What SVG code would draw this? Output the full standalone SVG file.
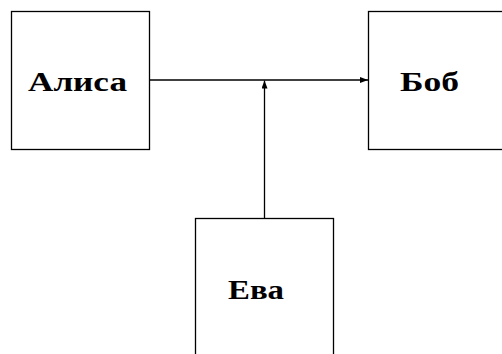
<svg xmlns="http://www.w3.org/2000/svg" width="502" height="354" viewBox="0 0 502 354">
<style>
.box{fill:#fff;stroke:#000;stroke-width:1.3}
.lbl{font-family:"Liberation Serif","DejaVu Serif",serif;font-weight:bold;font-size:28px;fill:#000}
.edge{stroke:#000;stroke-width:1.3;fill:none}
</style>
<defs>
<marker id="ah" viewBox="0 0 8 6" refX="8" refY="3" markerWidth="8" markerHeight="6" markerUnits="userSpaceOnUse" orient="auto">
<path d="M0,0 L8,3 L0,6 Z" fill="#000"/>
</marker>
</defs>
<rect width="502" height="354" fill="#fff"/>
<g id="alice">
<rect class="box" x="11.5" y="11.5" width="138" height="138"/>
<text class="lbl" x="28" y="90.7" textLength="99" lengthAdjust="spacingAndGlyphs">Алиса</text>
</g>
<g id="bob">
<rect class="box" x="368.5" y="11.5" width="140" height="138"/>
<text class="lbl" x="400" y="91" textLength="59" lengthAdjust="spacingAndGlyphs">Боб</text>
</g>
<g id="eve">
<rect class="box" x="195.5" y="218.5" width="138" height="140"/>
<text class="lbl" x="228" y="299" textLength="56" lengthAdjust="spacingAndGlyphs">Ева</text>
</g>
<g id="connectors">
<line class="edge" x1="149.5" y1="80" x2="368" y2="80" marker-end="url(#ah)"/>
<line class="edge" x1="264.5" y1="218.5" x2="264.5" y2="80.5" marker-end="url(#ah)"/>
</g>
</svg>
